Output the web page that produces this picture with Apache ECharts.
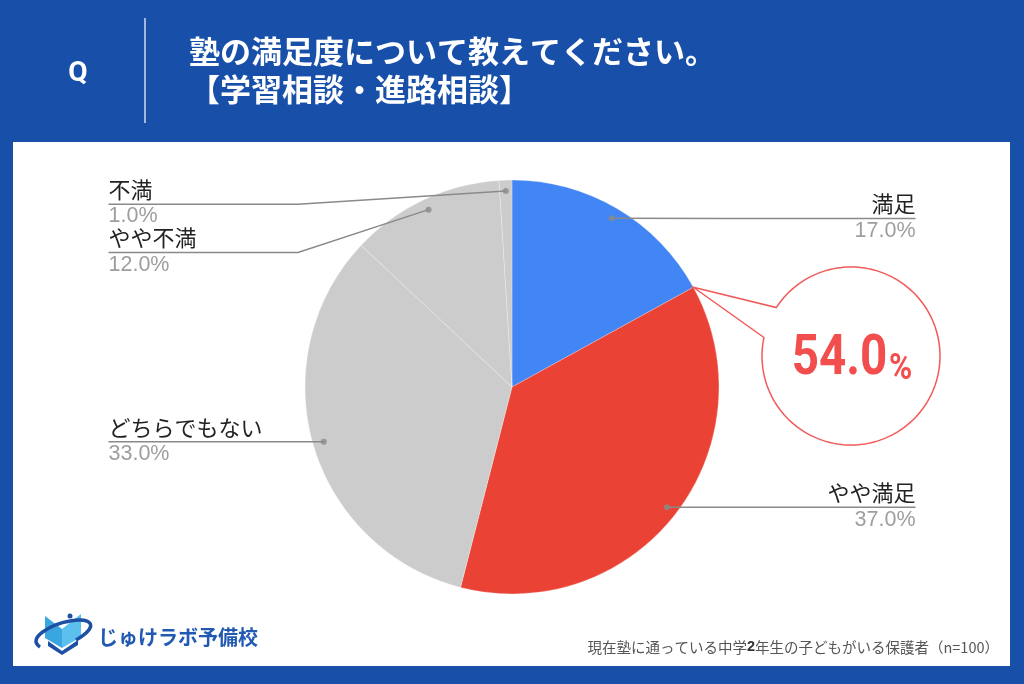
<!DOCTYPE html>
<html><head><meta charset="utf-8">
<script src="https://cdn.jsdelivr.net/npm/echarts@6/dist/echarts.min.js"></script>
<style>html,body{margin:0;padding:0;background:#1850a9}#c{width:1024px;height:684px}</style>
</head><body><div id="c"></div>
<script>
// ---- data ----
const categories = ['満足', 'やや満足', 'どちらでもない', 'やや不満', '不満'];
const values = [17, 37, 33, 12, 1];
const sliceColors = ['#4285F4', '#EA4335', '#CCCCCC', '#CCCCCC', '#CCCCCC'];
const titleLines = ['塾の満足度について教えてください。', '【学習相談・進路相談】'];
const questionMark = 'Q';
const highlightCount = 2; // 満足 + やや満足
const notePrefix = '現在塾に通っている中学';
const noteBold = '2';
const noteSuffix = '年生の子どもがいる保護者（n=100）';
const brandName = 'じゅけラボ予備校';

// ---- layout constants ----
const CX = 512, CY = 387, R = 207, RL = 196, LABEL_TOP = 180;
const total = values.reduce((a, b) => a + b, 0);
const mids = [];
let acc = 0;
values.forEach(v => { mids.push(acc + v / 2); acc += v; });
function pt(frac, r) {
  const a = frac / total * 2 * Math.PI;
  return [CX + r * Math.sin(a), CY - r * Math.cos(a)];
}
const highlightPct = values.slice(0, highlightCount).reduce((a, b) => a + b, 0) / total * 100;

const chart = echarts.init(document.getElementById('c'), null, { renderer: 'canvas' });

const pieData = categories.map((c, i) => ({ name: c, value: values[i], itemStyle: { color: sliceColors[i] } }));
const labelData = categories.map((c, i) => ({ name: c, value: values[i] }));

// callout bubble outline (circle with a tail pointing to the highlighted boundary)
const BX = 851, BY = 356, BR = 89;
const tip = pt(values[0], R);
const a1 = 213, a2 = 192 + 360;
const bubblePts = [tip];
for (let d = a1; d <= a2; d += 2) {
  const t = d * Math.PI / 180;
  bubblePts.push([BX + BR * Math.cos(t), BY + BR * Math.sin(t)]);
}
{
  const t = a2 * Math.PI / 180;
  bubblePts.push([BX + BR * Math.cos(t), BY + BR * Math.sin(t)]);
}

const option = {
  animation: false,
  backgroundColor: '#1850a9',
  polar: { center: [CX, CY], radius: R },
  angleAxis: { type: 'value', min: 0, max: total, startAngle: 90, clockwise: true, show: false },
  radiusAxis: { type: 'value', min: 0, max: R, show: false },
  graphic: [
    { type: 'rect', shape: { x: 13, y: 142, width: 997, height: 524 }, style: { fill: '#ffffff' }, z: -10 },
    { type: 'text', x: 78, y: 74, style: { text: questionMark, fill: '#fff', font: 'bold 28px Roboto, sans-serif', align: 'center', verticalAlign: 'middle' } },
    { type: 'line', shape: { x1: 145, y1: 18, x2: 145, y2: 123 }, style: { stroke: '#ffffff', lineWidth: 1.2 } },
    { type: 'text', x: 189, y: 51, style: { text: titleLines[0], fill: '#fff', font: 'bold 31px "Noto Sans CJK JP"', verticalAlign: 'middle' } },
    { type: 'text', x: 189, y: 89, style: { text: titleLines[1], fill: '#fff', font: 'bold 31px "Noto Sans CJK JP"', verticalAlign: 'middle' } },
    { type: 'polygon', shape: { points: bubblePts }, style: { fill: '#ffffff', stroke: '#F25A5A', lineWidth: 1.5 }, z: 20 },
    { type: 'text', x: 852, y: 358, scaleX: 0.85, z: 21,
      style: { text: '{a|' + highlightPct.toFixed(1) + '}{b|%}', align: 'center', verticalAlign: 'middle',
        rich: { a: { fontSize: 56, fontWeight: 'bold', fontFamily: 'Roboto', fill: '#F24E4E', verticalAlign: 'bottom', lineHeight: 60 },
                b: { fontSize: 37, fontWeight: 'bold', fontFamily: 'Roboto', fill: '#F24E4E', verticalAlign: 'bottom', lineHeight: 60, padding: [0, 0, 0, 2] } } } },
    { type: 'text', x: 999, y: 647, z: 5,
      style: { text: '{t|' + notePrefix + '}{b|' + noteBold + '}{t|' + noteSuffix + '}', align: 'right', verticalAlign: 'middle',
        rich: { t: { fontSize: 14.5, fontFamily: '"Noto Sans CJK JP"', fill: '#555' },
                b: { fontSize: 14.5, fontWeight: 'bold', fontFamily: '"Liberation Sans"', fill: '#333' } } } },
    // logo
    { type: 'polygon', shape: { points: [[45, 616], [62, 629], [62, 648], [45, 638]] }, style: { fill: '#3AA6E0' }, z: 5 },
    { type: 'polygon', shape: { points: [[62, 629], [81, 614], [81, 637], [62, 648]] }, style: { fill: '#5BC0EE' }, z: 5 },
    { type: 'polygon', shape: { points: [[48, 641], [62, 651], [78, 640], [78, 645], [62, 655], [48, 646]] }, style: { fill: '#1D4FA3' }, z: 5 },
    { type: 'bezierCurve', shape: { x1: 40, y1: 647, cpx1: 26, cpy1: 638, cpx2: 52, cpy2: 624, x2: 70, y2: 621 }, style: { fill: 'none', stroke: '#1D4FA3', lineWidth: 3.5 }, z: 6 },
    { type: 'bezierCurve', shape: { x1: 70, y1: 621, cpx1: 92, cpy1: 617, cpx2: 100, cpy2: 626, x2: 76, y2: 640 }, style: { fill: 'none', stroke: '#1D4FA3', lineWidth: 3.5 }, z: 6 },
    { type: 'circle', shape: { cx: 70, cy: 616, r: 2.5 }, style: { fill: '#1D4FA3' }, z: 6 },
    { type: 'text', x: 98, y: 637, z: 5, style: { text: brandName, fill: '#2159B3', font: 'bold 20px "Noto Sans CJK JP"', verticalAlign: 'middle' } }
  ],
  series: [
    {
      type: 'pie', left: 0, top: 0, width: 1024, height: 684, center: [CX, CY], radius: R,
      startAngle: 90, clockwise: true, silent: true, z: 2,
      label: { show: false }, labelLine: { show: false },
      itemStyle: { borderColor: 'rgba(255,255,255,0.25)', borderWidth: 1 },
      data: pieData
    },
    {
      type: 'pie', left: 0, top: LABEL_TOP, width: 1024, height: 684 - LABEL_TOP,
      center: [CX, CY - LABEL_TOP], radius: RL, startAngle: 90, clockwise: true, silent: true, z: 3,
      itemStyle: { color: 'rgba(0,0,0,0)', borderWidth: 0 },
      emphasis: { disabled: true },
      data: labelData,
      label: {
        show: true, position: 'outside', alignTo: 'edge', edgeDistance: 108.5,
        formatter: p => '{n|' + p.name + '}\n{v|' + (p.value / total * 100).toFixed(1) + '%}',
        rich: {
          n: { fontSize: 22, lineHeight: 25, color: '#222222', fontFamily: '"Liberation Sans", "Noto Sans CJK JP"' },
          v: { fontSize: 21.5, lineHeight: 24, color: '#9E9E9E', fontFamily: '"Liberation Sans", "Noto Sans CJK JP"' }
        }
      },
      labelLine: { show: true, length: 0, length2: 10, lineStyle: { color: '#8A8A8A', width: 1.5 } },
      labelLayout: function (p) {
        const i = p.dataIndex;
        const dot = pt(mids[i], RL);
        const r = p.labelRect;
        const left = Math.sin(mids[i] / total * 2 * Math.PI) < 0;
        const y = r.y + r.height / 2;
        const bendX = left ? Math.min(dot[0], CX - R - 7) : Math.max(dot[0], CX + R + 7);
        const endX = left ? r.x : r.x + r.width;
        return { labelLinePoints: [dot, [bendX, y], [endX, y]] };
      }
    },
    {
      type: 'scatter', coordinateSystem: 'polar', symbol: 'circle', symbolSize: 6, silent: true, z: 6,
      itemStyle: { color: '#8A8A8A' },
      data: mids.map(m => [RL, m])
    }
  ]
};
chart.setOption(option);
</script>
</body></html>
